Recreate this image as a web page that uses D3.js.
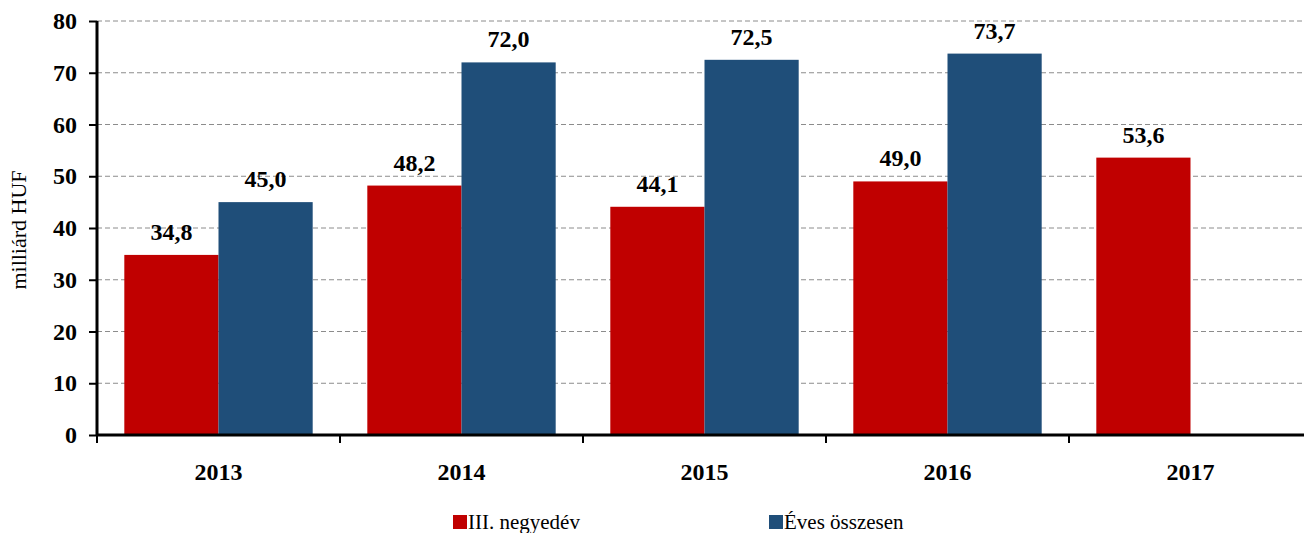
<!DOCTYPE html>
<html>
<head>
<meta charset="utf-8">
<script src="https://cdn.jsdelivr.net/npm/d3@7"></script>
<style>
  body { margin: 0; background: #fff; }
</style>
</head>
<body>
<script>
// Data
const years = ['2013', '2014', '2015', '2016', '2017'];
const quarterValues = [34.8, 48.2, 44.1, 49.0, 53.6];
const yearValues = [45.0, 72.0, 72.5, 73.7, null];
const yTicks = [0, 10, 20, 30, 40, 50, 60, 70, 80];
const seriesNames = ['III. negyedév', 'Éves összesen'];
const seriesColors = ['#c00000', '#1f4e79'];

const serif = '"Liberation Serif", "Times New Roman", Times, serif';
let svg = '';

window.onload = function () {
  svg = d3.select('body')
    .append('svg')
    .attr('width', 1304)
    .attr('height', 533)
    .attr('font-family', serif);
  drawPlot();
}

function drawPlot() {
  // scales
  let xScale = d3.scaleBand()
    .domain(years)
    .range([97, 97 + 243 * years.length])
    .paddingInner(0)
    .paddingOuter(0);

  let yScale = d3.scaleLinear()
    .domain([0, 80])
    .range([435, 21]);

  let subScale = d3.scaleBand()
    .domain([0, 1])
    .range([0, xScale.bandwidth()])
    .paddingOuter(0.29)
    .paddingInner(0);

  // gridlines
  svg.append('g')
    .selectAll('line')
    .data(yTicks.filter(t => t > 0))
    .enter()
    .append('line')
    .attr('x1', 97)
    .attr('x2', 1304)
    .attr('y1', d => yScale(d))
    .attr('y2', d => yScale(d))
    .attr('stroke', '#8c8c8c')
    .attr('stroke-width', 1)
    .style('stroke-dasharray', '5, 3');

  // bars
  const series = [quarterValues, yearValues];
  series.forEach((values, s) => {
    let rows = years.map((y, i) => ({ year: y, value: values[i] }))
      .filter(d => d.value !== null);

    svg.append('g')
      .selectAll('rect')
      .data(rows)
      .enter()
      .append('rect')
      .attr('x', d => xScale(d.year) + subScale(s))
      .attr('y', d => yScale(d.value))
      .attr('width', subScale.bandwidth())
      .attr('height', d => yScale(0) - yScale(d.value))
      .attr('fill', seriesColors[s]);

    svg.append('g')
      .selectAll('text')
      .data(rows)
      .enter()
      .append('text')
      .attr('x', d => xScale(d.year) + subScale(s) + subScale.bandwidth() / 2)
      .attr('y', d => yScale(d.value) - 15)
      .attr('text-anchor', 'middle')
      .attr('font-weight', 'bold')
      .style('font-size', '24px')
      .text(d => d.value.toFixed(1).replace('.', ','));
  });

  // y axis
  let yAxis = d3.axisLeft(yScale).tickValues(yTicks).tickSize(8).tickPadding(12);
  let gy = svg.append('g')
    .attr('transform', 'translate(97, 0)')
    .call(yAxis)
    .attr('font-family', serif);
  gy.select('.domain').attr('stroke-width', 3).attr('d', 'M0,21V436');
  gy.selectAll('.tick line').attr('stroke-width', 2);
  gy.selectAll('.tick text')
    .attr('font-weight', 'bold')
    .style('font-size', '24px')
    .attr('fill', '#000');

  // x axis
  let xAxis = d3.axisBottom(xScale).tickSize(0).tickPadding(28);
  let gx = svg.append('g')
    .attr('transform', 'translate(0, 435)')
    .call(xAxis)
    .attr('font-family', serif);
  gx.select('.domain').attr('stroke-width', 3).attr('d', 'M96,0H1304');
  gx.selectAll('.tick text')
    .attr('font-weight', 'bold')
    .style('font-size', '24px')
    .attr('fill', '#000');

  // category separators
  svg.append('g')
    .selectAll('line')
    .data(years.slice(1))
    .enter()
    .append('line')
    .attr('x1', d => xScale(d))
    .attr('x2', d => xScale(d))
    .attr('y1', 435)
    .attr('y2', 443)
    .attr('stroke', '#000')
    .attr('stroke-width', 2);

  svg.append('line')
    .attr('x1', 97).attr('x2', 97)
    .attr('y1', 435).attr('y2', 443)
    .attr('stroke', '#000')
    .attr('stroke-width', 2);

  makeLabels();
}

function makeLabels() {
  svg.append('text')
    .attr('transform', 'translate(26, 230)rotate(-90)')
    .attr('text-anchor', 'middle')
    .style('font-size', '22px')
    .text('milliárd HUF');

  // legend
  const legendX = [453, 769];
  seriesNames.forEach((name, i) => {
    svg.append('rect')
      .attr('x', legendX[i])
      .attr('y', 515)
      .attr('width', 14)
      .attr('height', 14)
      .attr('fill', seriesColors[i]);
    svg.append('text')
      .attr('x', legendX[i] + 15)
      .attr('y', 529)
      .style('font-size', '21px')
      .text(name);
  });
}
</script>
</body>
</html>
